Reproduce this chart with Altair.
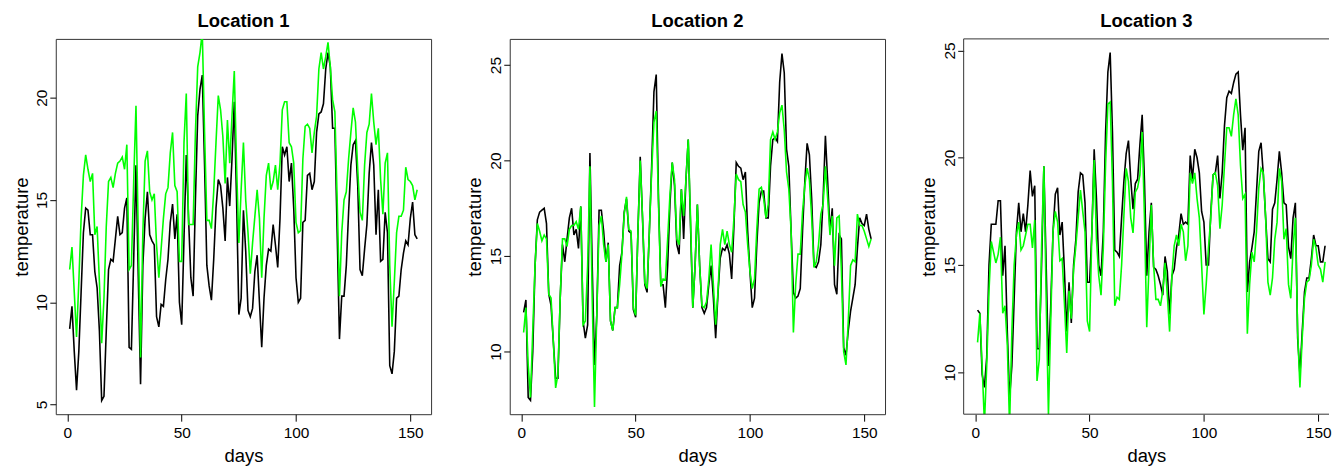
import altair as alt
import pandas as pd

days = list(range(1, 154))

loc1_black = [8.7, 9.8, 7.6, 5.7, 7.6, 10.5, 13.4, 14.6, 14.5, 13.3,
              13.3, 11.5, 10.7, 8.6, 5.2, 5.4, 8.6, 11.6, 12.1, 12.0,
              13.1, 14.2, 13.3, 13.4, 14.6, 15.1, 7.8, 7.7, 12.1, 16.7,
              11.3, 6.0, 11.8, 14.1, 15.4, 13.3, 13.0, 12.8, 9.3, 8.8,
              9.9, 9.8, 11.1, 12.1, 13.9, 14.8, 13.1, 14.3, 10.0, 8.9,
              13.1, 17.2, 14.1, 11.2, 10.3, 15.0, 19.1, 20.4, 21.1, 16.7,
              11.8, 10.8, 10.1, 12.1, 14.6, 16.0, 15.7, 14.6, 13.0, 16.1,
              14.7, 17.0, 19.8, 15.0, 9.4, 10.2, 14.5, 12.5, 9.6, 9.3,
              9.7, 11.5, 12.3, 10.0, 7.8, 10.2, 11.8, 12.6, 12.5, 13.8,
              12.8, 11.7, 14.1, 17.6, 17.2, 17.6, 15.9, 16.8, 14.6, 11.2,
              10.0, 10.2, 13.9, 14.0, 16.2, 16.3, 15.5, 15.9, 18.3, 19.2,
              19.3, 19.7, 21.4, 22.2, 21.5, 18.5, 18.5, 13.4, 8.2, 10.3,
              10.3, 11.8, 14.4, 16.7, 17.7, 17.9, 15.7, 11.6, 11.3, 12.6,
              13.8, 16.3, 17.8, 16.7, 13.3, 15.5, 12.0, 12.1, 14.4, 13.4,
              6.9, 6.5, 7.6, 10.2, 10.3, 11.6, 12.4, 13.0, 12.8, 14.1,
              14.9, 13.3, 13.1]

loc1_green = [11.6, 12.7, 10.5, 8.3, 11.0, 14.1, 16.2, 17.2, 16.5, 15.9,
              16.3, 13.3, 13.7, 11.0, 8.0, 10.2, 13.7, 15.9, 16.1, 15.6,
              16.3, 16.8, 16.9, 17.1, 16.5, 17.7, 11.6, 11.8, 15.9, 19.6,
              13.4, 7.3, 13.4, 16.9, 17.4, 15.4, 15.0, 15.3, 12.8, 11.2,
              12.6, 14.1, 15.3, 15.6, 17.3, 18.3, 15.7, 15.4, 12.0, 12.0,
              17.8, 20.2, 13.8, 13.8, 13.8, 18.3, 21.5, 22.2, 23.2, 18.3,
              14.0, 14.0, 13.6, 15.4, 17.8, 20.1, 19.4, 18.1, 15.8, 18.9,
              16.8, 19.1, 21.3, 16.7, 12.9, 15.5, 17.8, 15.0, 13.4, 11.4,
              12.9, 14.2, 15.5, 14.1, 11.2, 14.1, 16.2, 16.8, 15.5, 15.9,
              16.7, 15.5, 16.8, 19.4, 19.8, 19.8, 17.8, 17.6, 16.8, 13.9,
              13.4, 13.5, 17.0, 18.6, 18.7, 18.5, 17.3, 18.3, 19.1, 21.4,
              22.2, 21.4, 22.0, 22.7, 21.5, 19.9, 19.3, 15.0, 10.3, 13.4,
              15.0, 15.4, 17.0, 18.3, 19.5, 18.8, 16.5, 14.4, 14.0, 16.7,
              18.3, 18.7, 20.2, 18.8, 17.7, 18.5, 16.0, 14.3, 16.8, 17.3,
              11.8, 8.8, 11.0, 13.4, 14.2, 14.2, 14.5, 16.6, 16.0, 15.9,
              15.7, 15.0, 15.5]

loc2_black = [12.05, 12.7, 7.6, 7.45, 10.0, 14.5, 16.9, 17.3, 17.4, 17.5,
              16.7, 13.0, 12.4, 10.5, 8.6, 8.6, 12.8, 15.6, 14.7, 15.9,
              17.0, 17.5, 16.1, 16.4, 15.4, 17.6, 11.6, 10.7, 11.4, 20.4,
              14.5, 9.3, 11.9, 17.4, 17.4, 16.3, 14.7, 15.7, 11.6, 11.1,
              12.3, 12.3, 14.5, 15.2, 17.3, 18.0, 16.3, 16.2, 12.2, 11.8,
              16.3, 20.2, 17.0, 13.5, 13.1, 16.3, 19.7, 23.6, 24.5, 18.0,
              13.5, 13.5, 12.3, 14.5, 17.7, 19.9, 18.7, 15.6, 15.1, 18.5,
              15.9, 19.0, 21.1, 16.6, 12.3, 14.5, 17.7, 14.5, 12.3, 12.0,
              12.3, 13.5, 14.5, 12.8, 10.7, 13.0, 14.9, 15.4, 15.3, 15.6,
              15.1, 13.8, 16.6, 19.9, 19.7, 19.6, 19.0, 19.4, 16.3, 14.2,
              12.3, 12.8, 15.6, 17.8, 18.4, 18.4, 17.0, 17.0, 19.7, 21.1,
              21.2, 21.0, 24.1, 25.6, 24.6, 20.6, 19.7, 16.3, 13.1, 12.8,
              12.9, 13.3, 16.3, 18.9, 20.9, 20.3, 18.0, 14.5, 14.4, 14.7,
              15.6, 18.0, 21.3, 18.9, 16.3, 17.5, 13.5, 13.0, 16.1, 15.9,
              10.2, 9.8, 11.1, 12.1, 12.8, 13.5, 15.4, 17.0, 16.7, 16.6,
              17.2, 16.4, 15.9]

loc2_green = [11.0, 12.3, 9.3, 7.6, 11.1, 14.5, 16.7, 16.3, 15.8, 16.1,
              15.9, 13.0, 12.8, 10.5, 8.1, 8.8, 12.8, 15.9, 15.9, 15.5,
              16.4, 16.6, 16.6, 16.8, 16.4, 17.6, 11.4, 11.6, 14.5, 19.7,
              12.8, 7.1, 11.9, 16.6, 17.1, 15.6, 14.7, 15.6, 11.6, 11.1,
              12.3, 12.3, 13.5, 15.1, 17.2, 18.1, 16.4, 16.3, 12.3, 11.9,
              16.3, 20.0, 17.1, 13.6, 13.3, 16.3, 19.4, 22.0, 22.6, 17.7,
              13.4, 13.8, 13.75, 15.9, 18.2, 19.9, 19.0, 15.9, 15.6, 18.5,
              17.1, 19.0, 21.1, 17.0, 12.3, 14.5, 17.7, 14.5, 12.4, 12.3,
              12.6, 13.8, 15.6, 13.5, 11.4, 13.1, 15.6, 16.4, 15.6, 16.3,
              15.6, 15.2, 17.0, 19.3, 19.0, 18.9, 17.7, 17.3, 15.6, 14.2,
              13.3, 13.8, 16.4, 18.5, 18.6, 18.0, 17.0, 17.7, 21.1, 21.5,
              21.1, 21.5, 22.5, 22.9, 21.6, 19.4, 18.5, 16.3, 11.0, 13.5,
              15.1, 15.1, 17.3, 18.7, 19.6, 19.0, 17.0, 14.4, 14.7, 15.6,
              17.2, 17.7, 19.7, 18.0, 16.1, 17.1, 14.5, 17.0, 17.1, 14.2,
              10.0, 9.3, 11.6, 14.5, 14.8, 14.7, 17.2, 16.6, 16.6, 16.3,
              15.9, 15.5, 15.9]

loc3_black = [12.9, 12.75, 9.9, 9.3, 10.7, 15.0, 16.9, 16.9, 16.9, 18.0,
              18.0, 14.5, 15.9, 11.9, 8.8, 10.3, 13.4, 16.55, 17.9, 16.55,
              17.4, 16.55, 17.8, 19.4, 18.2, 18.7, 11.1, 11.1, 15.0, 19.6,
              15.0, 10.3, 13.1, 16.55, 18.3, 18.6, 16.4, 17.0, 14.7, 11.9,
              14.2, 12.3, 15.0, 16.2, 18.4, 19.3, 19.2, 17.9, 14.2, 14.2,
              16.55, 20.4, 18.1, 15.0, 14.5, 16.55, 21.2, 24.0, 24.9, 21.2,
              15.7, 15.6, 15.4, 17.2, 18.9, 20.2, 20.8, 19.0, 17.6, 18.8,
              19.0, 20.6, 22.0, 18.9, 14.5, 16.55, 17.9, 14.9, 14.8, 14.5,
              14.1, 13.6, 15.4, 14.7, 12.7, 14.5, 14.8, 15.8, 16.4, 17.4,
              16.9, 17.0, 16.9, 20.1, 19.0, 20.4, 20.0, 19.3, 17.5, 17.0,
              15.0, 15.0, 17.4, 19.2, 19.3, 20.1, 18.1, 19.3, 21.5, 22.8,
              23.1, 23.0, 23.5, 23.9, 24.0, 22.0, 20.35, 21.4, 13.75, 15.15,
              15.8, 16.55, 18.4, 20.3, 20.7, 19.2, 17.2, 15.3, 15.15, 17.6,
              17.9, 19.0, 20.3, 19.3, 17.9, 17.8, 15.85, 15.3, 17.2, 17.9,
              11.6, 9.9, 11.9, 13.75, 14.4, 14.4, 15.3, 16.4, 15.9, 15.9,
              15.15, 15.15, 15.9]

loc3_green = [11.4, 12.75, 10.3, 7.6, 10.3, 13.8, 16.1, 15.6, 15.1, 15.5,
              16.3, 12.75, 13.1, 11.3, 7.5, 11.9, 15.0, 16.4, 17.0, 15.7,
              15.9, 16.4, 16.9, 16.9, 15.8, 17.1, 9.6, 10.6, 15.9, 19.6,
              13.45, 8.0, 12.4, 16.55, 17.5, 17.0, 15.2, 15.3, 13.2, 10.9,
              13.8, 12.5, 14.8, 15.9, 17.2, 18.5, 17.5, 16.55, 12.4, 11.9,
              16.55, 19.9, 16.2, 14.5, 13.6, 15.8, 19.7, 22.5, 22.6, 18.9,
              13.1, 13.5, 13.4, 15.0, 17.3, 19.5, 18.9, 17.2, 16.5, 18.4,
              18.6, 19.2, 21.2, 17.2, 12.1, 15.0, 17.8, 15.0, 13.4, 13.4,
              13.1, 13.8, 15.1, 13.6, 11.9, 14.5, 15.9, 16.4, 15.9, 16.9,
              16.55, 15.2, 15.9, 19.3, 18.8, 19.3, 18.1, 17.2, 15.0, 12.7,
              14.1, 15.8, 17.2, 19.2, 19.3, 18.7, 16.7, 17.8, 19.65, 21.4,
              21.4, 21.0, 22.0, 22.75, 22.0, 19.65, 18.1, 18.3, 11.8, 14.1,
              15.6, 15.15, 16.55, 18.6, 19.5, 19.3, 17.2, 14.2, 13.6, 14.4,
              16.2, 17.0, 19.5, 18.9, 16.2, 16.7, 14.1, 13.45, 15.8, 17.2,
              11.9, 9.3, 11.6, 13.45, 14.2, 14.3, 15.0, 16.2, 15.8, 15.0,
              14.8, 14.2, 15.15]

titles = ["Location 1", "Location 2", "Location 3"]
y_ticks = [[5, 10, 15, 20], [10, 15, 20, 25], [10, 15, 20, 25]]
y_domains = [[4.53, 22.87], [6.72, 26.37], [8.05, 25.54]]
x_ticks = [0, 50, 100, 150]

FONT = "Liberation Sans"
H = 377
BOX = "#333333"


def panel(black, green, title, ydom, yticks, width, xmax, open_right=False):
    df_b = pd.DataFrame({"day": days, "temp": black})
    df_g = pd.DataFrame({"day": days, "temp": green})
    x = alt.X("day:Q",
              scale=alt.Scale(domain=[-5.08, xmax], nice=False, zero=False),
              axis=alt.Axis(values=x_ticks, title="days", format="d",
                            tickSize=7, labelPadding=4.5, titlePadding=5.5))
    y = alt.Y("temp:Q",
              scale=alt.Scale(domain=ydom, nice=False, zero=False),
              axis=alt.Axis(values=yticks, title="temperature", format="d",
                            labelAngle=270, labelAlign="center",
                            labelBaseline="bottom", tickSize=6,
                            labelPadding=0.5, titlePadding=3.4))
    lb = alt.Chart(df_b).mark_line(color="black", strokeWidth=1.6, clip=True).encode(x=x, y=y)
    lg = alt.Chart(df_g).mark_line(color="#00ff00", strokeWidth=1.6, clip=True).encode(x=x, y=y)
    layers = [lb, lg]
    props = dict(
        width=width, height=H,
        title=alt.Title(title, fontSize=18.5, fontWeight="bold", font=FONT,
                        anchor="middle", offset=8, color="black"),
    )
    if open_right:
        one = pd.DataFrame({"k": [0]})
        top = alt.Chart(one).mark_rule(color=BOX, strokeWidth=1).encode(
            x=alt.value(0), x2=alt.value(width), y=alt.value(0))
        bottom = alt.Chart(one).mark_rule(color=BOX, strokeWidth=1).encode(
            x=alt.value(0), x2=alt.value(width), y=alt.value(H))
        left = alt.Chart(one).mark_rule(color=BOX, strokeWidth=1).encode(
            x=alt.value(0), y=alt.value(0), y2=alt.value(H))
        layers += [top, bottom, left]
        props["view"] = alt.ViewBackground(strokeOpacity=0)
    return alt.layer(*layers).properties(**props)


p1 = panel(loc1_black, loc1_green, titles[0], y_domains[0], y_ticks[0], 377, 159.08)
p2 = panel(loc2_black, loc2_green, titles[1], y_domains[1], y_ticks[1], 377, 159.08)
p3 = panel(loc3_black, loc3_green, titles[2], y_domains[2], y_ticks[2], 367, 154.72,
           open_right=True)

chart = alt.hconcat(p1, p2, p3, spacing=79, bounds="flush").properties(
    padding={"left": 3, "top": 3, "right": 0, "bottom": 0}
).configure_view(
    stroke=BOX, strokeWidth=1
).configure_axis(
    domain=False, grid=False, tickColor="black", tickWidth=1,
    labelFont=FONT, labelFontSize=15.5, labelColor="black",
    titleFont=FONT, titleFontSize=18.5, titleFontWeight="normal",
    titleColor="black",
)

chart.save("out.html", embed_options={"renderer": "svg", "actions": False})
